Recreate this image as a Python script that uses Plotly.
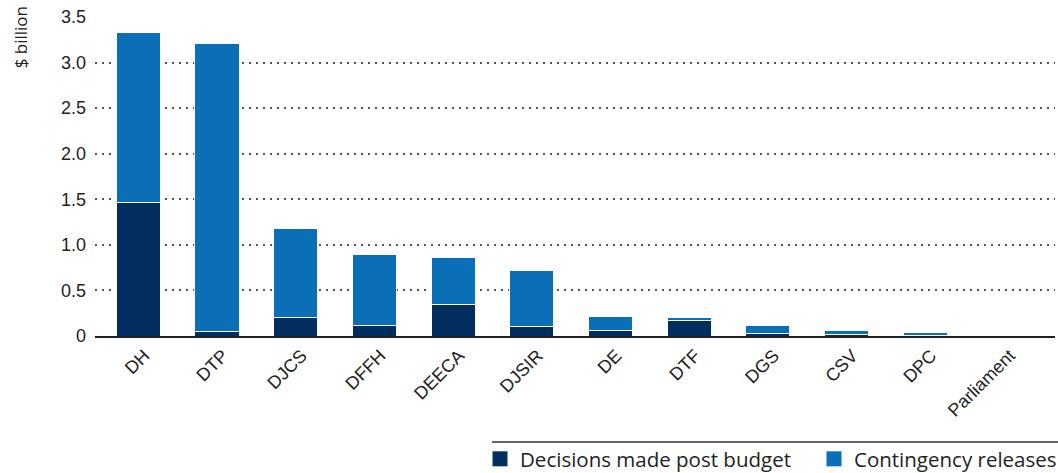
import plotly.graph_objects as go

departments = ["DH", "DTP", "DJCS", "DFFH", "DEECA", "DJSIR", "DE", "DTF",
               "DGS", "CSV", "DPC", "Parliament"]
post_budget = [1.47, 0.05, 0.20, 0.11, 0.35, 0.10, 0.06, 0.165, 0.03, 0.02, 0.005, 0.005]
contingency = [1.86, 3.16, 0.98, 0.78, 0.51, 0.62, 0.15, 0.035, 0.08, 0.035, 0.03, 0.007]
series_names = ["Decisions made post budget", "Contingency releases"]
y_ticks = [0, 0.5, 1.0, 1.5, 2.0, 2.5, 3.0, 3.5]
y_tick_text = ["0", "0.5", "1.0", "1.5", "2.0", "2.5", "3.0", "3.5"]

NAVY = "#012E5F"
BLUE = "#0B6FB8"
TICK_FONT = dict(family="Liberation Sans, Arial, sans-serif", size=18, color="#222222")
LEGEND_FONT = dict(family="Open Sans, sans-serif", size=20.5, color="#222222")

fig = go.Figure()
for values, name, color in zip([post_budget, contingency], series_names, [NAVY, BLUE]):
    fig.add_trace(go.Bar(
        x=departments, y=values, name=name, showlegend=False,
        marker=dict(color=color, line=dict(color="white", width=1)),
    ))
# Legend entries with larger square swatches
for name, color in zip(series_names, [NAVY, BLUE]):
    fig.add_trace(go.Scatter(
        x=[None], y=[None], mode="markers", name=name,
        marker=dict(symbol="square", size=15, color=color),
    ))

fig.update_layout(
    barmode="stack",
    bargap=0.44,
    width=1058, height=473,
    margin=dict(l=95, r=3, t=17, b=137),
    plot_bgcolor="white", paper_bgcolor="white",
    showlegend=True,
    legend=dict(
        orientation="h", xref="container", yref="container",
        x=480 / 1058, xanchor="left", y=14 / 473, yanchor="middle",
        font=LEGEND_FONT, traceorder="normal", itemwidth=30, entrywidth=289,
        bgcolor="rgba(0,0,0,0)", tracegroupgap=0,
    ),
    xaxis=dict(
        tickangle=-45, tickfont=TICK_FONT, showgrid=False, automargin=False,
        showline=True, linecolor="#222222", linewidth=2,
        ticks="", range=[-0.55, 11.65], ticklabelshift=6,
    ),
    yaxis=dict(
        range=[0, 3.5], tickvals=y_ticks, ticktext=y_tick_text, automargin=False,
        tickfont=TICK_FONT, showgrid=True, gridcolor="#555555",
        griddash="2px,5px", gridwidth=1.5, zeroline=False, ticks="",
        ticklabelstandoff=8,
    ),
    annotations=[dict(
        text="$ billion", xref="paper", yref="paper", x=-0.078, y=1.04,
        xanchor="center", yanchor="top", textangle=-90, showarrow=False,
        font=dict(family="Open Sans, sans-serif", size=17, color="#222222"),
    )],
    shapes=[dict(
        type="line", xref="paper", yref="paper",
        x0=(492 - 95) / 960, x1=(1058 - 95) / 960,
        y0=-(442 - 336) / 319, y1=-(442 - 336) / 319,
        line=dict(color="#333333", width=1.5),
    )],
)

fig.write_html("out.html")
